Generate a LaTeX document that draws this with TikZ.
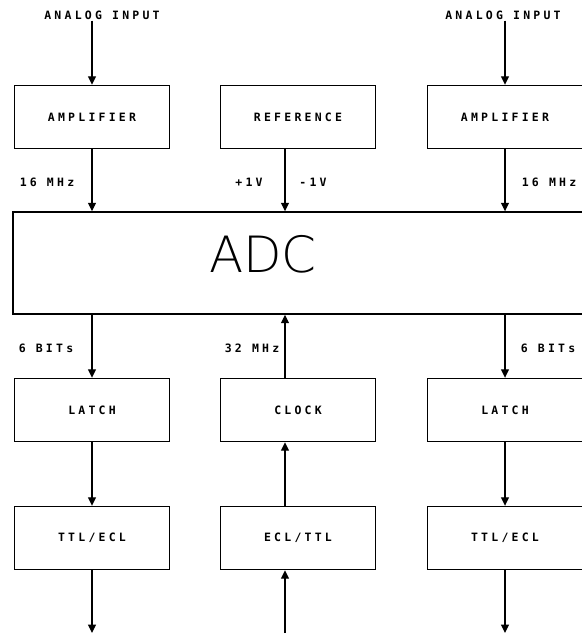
\documentclass[tikz,border=0pt]{standalone}
\usepackage{fontspec}
\usetikzlibrary{arrows.meta,positioning}
\newfontfamily\plotfont[LetterSpace=28]{DejaVu Sans Mono Bold}
\newfontfamily\adcfont{DejaVu Sans ExtraLight}

\tikzset{
  block/.style={draw,line width=1.4pt,minimum width=155pt,minimum height=63pt,
    font=\plotfont\fontsize{11.5}{13}\selectfont},
  tag/.style={inner sep=1pt,font=\plotfont\fontsize{11.5}{13}\selectfont},
  flow/.style={line width=1.2pt,-{Triangle[length=8.5pt,width=8pt]}}
}

\begin{document}
\begin{tikzpicture}[x=1pt,y=-1pt,line cap=butt,line join=miter]
  \useasboundingbox (0,0) rectangle (581,634);
  \coordinate (mid) at (285,0);

  % top row
  \node[tag] (inL) at (102,15) {ANALOG INPUT};
  \node[tag] (inR) at (503,15) {ANALOG INPUT};
  \node[block] (ampL) at (92,117) {AMPLIFIER};
  \node[block] (ref) at (298,117) {REFERENCE};
  \node[block] (ampR) at (505,117) {AMPLIFIER};

  % converter
  \node[draw,line width=1.4pt,minimum width=570pt,minimum height=102pt] (adc) at (298,263) {};
  \node[font=\adcfont\fontsize{50}{50}\selectfont] (adctxt) at (263,254) {ADC};

  % lower rows
  \node[block] (latL) at (92,410) {LATCH};
  \node[block] (clk) at (298,410) {CLOCK};
  \node[block] (latR) at (505,410) {LATCH};
  \node[block] (ttlL) at (92,538) {TTL/ECL};
  \node[block] (ecl) at (298,538) {ECL/TTL};
  \node[block] (ttlR) at (505,538) {TTL/ECL};
  \coordinate (outL) at (92,633);
  \coordinate (inM) at (285,633);
  \coordinate (outR) at (505,633);

  % connectors
  \draw[flow] (inL.south -| ampL.north) -- (ampL.north);
  \draw[flow] (inR.south -| ampR.north) -- (ampR.north);
  \draw[flow] (ampL.south) -- (adc.north -| ampL.south);
  \draw[flow] (ref.south -| mid) -- (adc.north -| mid);
  \draw[flow] (ampR.south) -- (adc.north -| ampR.south);
  \draw[flow] (adc.south -| latL.north) -- (latL.north);
  \draw[flow] (clk.north -| mid) -- (adc.south -| mid);
  \draw[flow] (adc.south -| latR.north) -- (latR.north);
  \draw[flow] (latL) -- (ttlL);
  \draw[flow] (ecl.north -| mid) -- (clk.south -| mid);
  \draw[flow] (latR) -- (ttlR);
  \draw[flow] (ttlL) -- (outL);
  \draw[flow] (inM) -- (ecl.south -| mid);
  \draw[flow] (ttlR) -- (outR);

  % signal labels
  \node[tag] at (47,182) {16 MHz};
  \node[tag] at (249,182) {+1V};
  \node[tag] at (313,182) {-1V};
  \node[tag] at (549,182) {16 MHz};
  \node[tag] at (46,348) {6 BITs};
  \node[tag] at (252,348) {32 MHz};
  \node[tag] at (548,348) {6 BITs};
\end{tikzpicture}
\end{document}
